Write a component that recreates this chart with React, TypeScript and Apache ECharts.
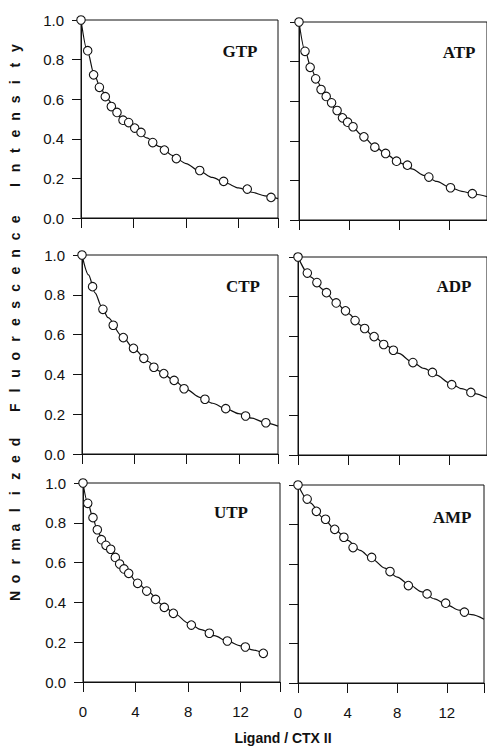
import React, { useEffect, useRef } from "react";
import * as echarts from "echarts";

// ---- Data ----
const panelNames = ["GTP", "ATP", "CTP", "ADP", "UTP", "AMP"];
const xTickLabels = ["0", "4", "8", "12"];
const yTickLabels = ["0.0", "0.2", "0.4", "0.6", "0.8", "1.0"];

const gtpX = [0, 0.51, 0.96, 1.4, 1.85, 2.31, 2.74, 3.2, 3.63, 4.09, 4.57, 5.46, 6.35, 7.26, 9.04, 10.86, 12.66, 14.47];
const gtpY = [1.0, 0.845, 0.723, 0.66, 0.613, 0.563, 0.533, 0.494, 0.482, 0.454, 0.432, 0.381, 0.343, 0.3, 0.24, 0.185, 0.146, 0.104];
const gtpFitX = [0, 0.5, 1, 1.5, 2, 3, 4, 5, 6, 7, 8, 9, 10, 11, 12, 13, 14, 15];
const gtpFitY = [1.0, 0.84, 0.725, 0.655, 0.6, 0.51, 0.455, 0.405, 0.36, 0.315, 0.275, 0.238, 0.205, 0.177, 0.152, 0.13, 0.112, 0.098];

const atpX = [0, 0.48, 0.89, 1.33, 1.76, 2.17, 2.6, 3.04, 3.47, 3.88, 4.31, 5.18, 6.05, 6.91, 7.78, 8.65, 10.36, 12.09, 13.83];
const atpY = [1.0, 0.852, 0.771, 0.713, 0.659, 0.624, 0.592, 0.553, 0.516, 0.494, 0.471, 0.42, 0.368, 0.336, 0.297, 0.277, 0.217, 0.163, 0.133];
const atpFitX = [0, 0.5, 1, 1.5, 2, 3, 4, 5, 6, 7, 8, 9, 10, 11, 12, 13, 14, 15];
const atpFitY = [1.0, 0.85, 0.76, 0.695, 0.64, 0.555, 0.49, 0.43, 0.375, 0.33, 0.29, 0.258, 0.225, 0.195, 0.165, 0.145, 0.13, 0.118];

const ctpX = [0, 0.81, 1.6, 2.39, 3.16, 3.94, 4.73, 5.5, 6.26, 7.05, 7.81, 9.41, 11.0, 12.52, 14.07];
const ctpY = [1.0, 0.841, 0.727, 0.647, 0.585, 0.531, 0.481, 0.436, 0.404, 0.37, 0.328, 0.275, 0.228, 0.191, 0.157];
const ctpFitX = [0, 0.5, 1, 1.5, 2, 3, 4, 5, 6, 7, 8, 9, 10, 11, 12, 13, 14, 15];
const ctpFitY = [1.0, 0.9, 0.81, 0.74, 0.685, 0.597, 0.527, 0.466, 0.415, 0.372, 0.325, 0.285, 0.255, 0.228, 0.203, 0.18, 0.158, 0.14];

const adpX = [0, 0.74, 1.5, 2.26, 3.03, 3.77, 4.53, 5.29, 6.04, 6.8, 7.57, 9.12, 10.67, 12.2, 13.72];
const adpY = [1.0, 0.919, 0.871, 0.82, 0.768, 0.728, 0.679, 0.639, 0.598, 0.558, 0.529, 0.467, 0.417, 0.355, 0.316];
const adpFitX = [0, 1, 2, 3, 4, 5, 6, 7, 8, 9, 10, 11, 12, 13, 14, 15];
const adpFitY = [1.0, 0.9, 0.836, 0.77, 0.714, 0.655, 0.6, 0.552, 0.513, 0.472, 0.437, 0.403, 0.365, 0.335, 0.31, 0.288];

const utpX = [0, 0.36, 0.76, 1.09, 1.4, 1.75, 2.11, 2.46, 2.79, 3.12, 3.48, 4.16, 4.85, 5.53, 6.19, 6.88, 8.25, 9.62, 10.99, 12.36, 13.73];
const utpY = [1.0, 0.898, 0.826, 0.765, 0.715, 0.687, 0.667, 0.626, 0.593, 0.568, 0.546, 0.496, 0.457, 0.415, 0.375, 0.345, 0.286, 0.245, 0.206, 0.176, 0.144];
const utpFitX = [0, 0.36, 0.76, 1, 1.5, 2, 2.5, 3, 3.5, 4, 5, 6, 7, 8, 9, 10, 11, 12, 13, 13.73];
const utpFitY = [1.0, 0.9, 0.826, 0.78, 0.71, 0.67, 0.625, 0.58, 0.545, 0.508, 0.452, 0.39, 0.343, 0.297, 0.263, 0.233, 0.205, 0.182, 0.16, 0.144];

const ampX = [0, 0.74, 1.48, 2.22, 2.96, 3.7, 4.44, 5.94, 7.42, 8.9, 10.41, 11.91, 13.42];
const ampY = [1.0, 0.929, 0.867, 0.827, 0.776, 0.736, 0.684, 0.634, 0.563, 0.492, 0.45, 0.403, 0.358];
const ampFitX = [0, 1, 2, 3, 4, 5, 6, 7, 8, 9, 10, 11, 12, 13, 14, 15];
const ampFitY = [1.0, 0.91, 0.835, 0.775, 0.72, 0.67, 0.625, 0.58, 0.535, 0.495, 0.46, 0.425, 0.395, 0.368, 0.345, 0.322];

const yTitle = "Normalized Fluorescence Intensity";
const xTitle = "Ligand / CTX II";

const pointsX = [gtpX, atpX, ctpX, adpX, utpX, ampX];
const pointsY = [gtpY, atpY, ctpY, adpY, utpY, ampY];
const fitsX = [gtpFitX, atpFitX, ctpFitX, adpFitX, utpFitX, ampFitX];
const fitsY = [gtpFitY, atpFitY, ctpFitY, adpFitY, utpFitY, ampFitY];

// ---- Layout ----
const grids = [
  { left: 81, top: 20, width: 197, height: 198 },
  { left: 299, top: 22, width: 196, height: 198 },
  { left: 82, top: 255, width: 196, height: 199 },
  { left: 298, top: 257, width: 196, height: 198 },
  { left: 83, top: 483, width: 197, height: 199 },
  { left: 298, top: 485, width: 196, height: 198 },
];
const labelPos = [
  [240, 51],
  [459, 52],
  [243, 286],
  [454, 286],
  [231, 512],
  [452, 517],
];

const INK = "#111";
const SANS = "'Liberation Sans', Arial, sans-serif";
const SERIF = "'Liberation Serif', 'Times New Roman', serif";

export default function App() {
  const ref = useRef<HTMLDivElement>(null);
  useEffect(() => {
    if (!ref.current) return;
    const chart = echarts.init(ref.current, undefined, { renderer: "svg" });

    const xAxes: any[] = [];
    const yAxes: any[] = [];
    const series: any[] = [];
    const graphics: any[] = [];

    for (let i = 0; i < 6; i++) {
      const isLeft = i % 2 === 0;
      const isBottom = i >= 4;
      xAxes.push({
        type: "value",
        gridIndex: i,
        min: 0,
        max: 15,
        interval: 4,
        axisLine: { show: true, onZero: false, lineStyle: { color: INK, width: 1 } },
        axisTick: { show: true, inside: false, length: 10, lineStyle: { color: INK } },
        axisLabel: {
          show: isBottom,
          margin: 22,
          fontSize: 15,
          color: INK,
          fontFamily: SANS,
          formatter: (v: number) => (xTickLabels.includes(String(v)) ? String(v) : ""),
        },
        splitLine: { show: false },
      });
      yAxes.push({
        type: "value",
        gridIndex: i,
        min: 0,
        max: 1,
        interval: 0.2,
        axisLine: { show: true, onZero: false, lineStyle: { color: INK, width: 1 } },
        axisTick: { show: true, inside: false, length: 9, lineStyle: { color: INK } },
        axisLabel: {
          show: isLeft,
          margin: 17,
          fontSize: 15,
          color: INK,
          fontFamily: SANS,
          formatter: (v: number) => yTickLabels[Math.round(v * 5)] ?? "",
        },
        splitLine: { show: false },
      });
      series.push({
        type: "line",
        xAxisIndex: i,
        yAxisIndex: i,
        data: fitsX[i].map((x, k) => [x, fitsY[i][k]]),
        smooth: 0.3,
        smoothMonotone: "x",
        showSymbol: false,
        lineStyle: { color: INK, width: 1.2 },
        z: 2,
      });
      series.push({
        type: "scatter",
        xAxisIndex: i,
        yAxisIndex: i,
        data: pointsX[i].map((x, k) => [x, pointsY[i][k]]),
        symbol: "circle",
        symbolSize: 8.5,
        clip: false,
        itemStyle: { color: "#fff", borderColor: INK, borderWidth: 1.1, opacity: 1 },
        z: 3,
      });
      graphics.push({
        type: "text",
        x: labelPos[i][0],
        y: labelPos[i][1],
        style: {
          text: panelNames[i],
          fontFamily: SERIF,
          fontWeight: "bold",
          fontSize: 17,
          fill: INK,
          align: "center",
          verticalAlign: "middle",
        },
      });
    }

    // rotated, letter-spaced y title
    const n = yTitle.length;
    const yBottom = 596;
    const yTop = 48;
    const pitch = (yBottom - yTop) / (n - 1);
    for (let k = 0; k < n; k++) {
      const ch = yTitle[k];
      if (ch === " ") continue;
      graphics.push({
        type: "text",
        x: 15,
        y: yBottom - k * pitch,
        rotation: Math.PI / 2,
        style: {
          text: ch,
          fontFamily: SANS,
          fontWeight: "bold",
          fontSize: 14,
          fill: INK,
          align: "center",
          verticalAlign: "middle",
        },
      });
    }
    graphics.push({
      type: "text",
      x: 283,
      y: 738,
      style: {
        text: xTitle,
        fontFamily: SANS,
        fontWeight: "bold",
        fontSize: 14,
        fill: INK,
        align: "center",
        verticalAlign: "middle",
      },
    });

    chart.setOption({
      animation: false,
      backgroundColor: "#fff",
      grid: grids.map((g) => ({
        ...g,
        show: true,
        borderColor: INK,
        borderWidth: 1,
        backgroundColor: "transparent",
        containLabel: false,
      })),
      xAxis: xAxes,
      yAxis: yAxes,
      series,
      graphic: graphics,
    });
    return () => chart.dispose();
  }, []);

  return (
    <div
      ref={ref}
      style={{ position: "absolute", left: 0, top: 0, width: 487, height: 746, background: "#fff" }}
    />
  );
}
